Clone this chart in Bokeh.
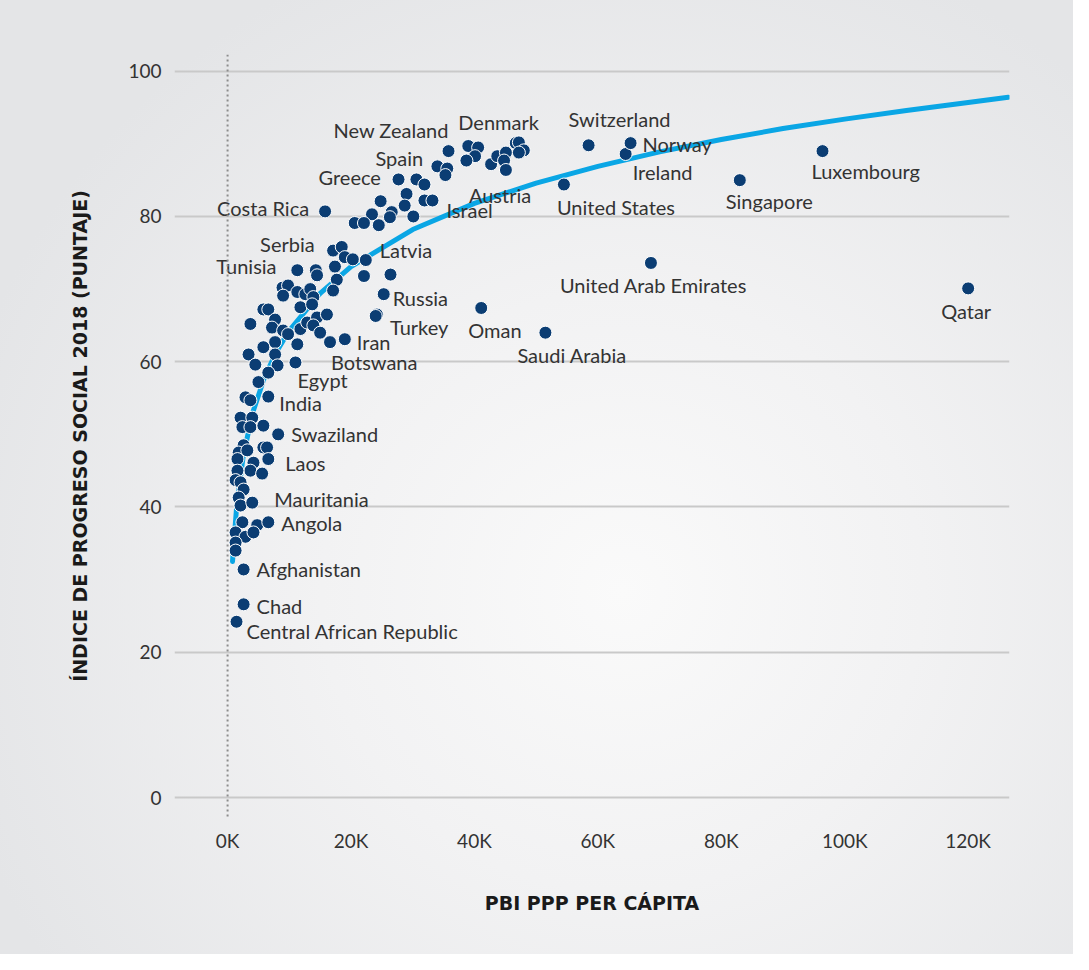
from bokeh.plotting import figure
from bokeh.models import ColumnDataSource, FixedTicker, Span
from bokeh.core.properties import value
from bokeh.embed import file_html
from bokeh.resources import INLINE

# ---- data (GDP PPP per capita in thousands, Social Progress Index 2018) ----
gdp = [35.8, 39.0, 40.6, 40.1, 38.7, 34.0, 35.6, 35.3, 42.7, 43.7, 45.1, 44.8, 45.1,
       46.7, 47.2, 48.0, 47.2, 27.7, 30.6, 31.9, 29.0, 28.7, 31.9, 33.2, 30.1, 26.6,
       15.8, 24.8, 23.4, 26.3, 20.6, 22.1, 24.5, 17.1, 18.5, 19.0, 20.3, 22.4, 17.4,
       11.3, 14.3, 14.5, 17.7, 22.1, 26.4,
       8.9, 9.8, 9.0, 11.3, 12.6, 13.4, 13.9, 17.1, 5.8, 6.6, 11.8, 13.7,
       3.7, 7.7, 7.2, 9.0, 9.8, 11.8, 12.9, 14.5, 16.1, 13.9, 15.0, 16.6, 19.0,
       11.3, 7.7, 5.8, 3.4, 7.7, 4.5, 8.1, 11.0, 6.6, 5.0, 2.9, 3.7, 6.6,
       25.3, 24.2, 24.0, 41.1, 51.5, 68.6, 120.0, 96.4, 83.0, 54.5, 64.5, 65.3, 58.5,
       2.1, 4.0, 2.4, 3.7, 5.8, 8.2, 2.6, 1.8, 3.2, 5.8, 6.4, 1.6, 4.2, 6.6,
       3.7, 5.6, 1.6, 1.3, 2.1, 2.6, 1.8, 2.1, 4.0, 2.4, 4.8, 6.6,
       1.3, 2.9, 4.2, 1.3, 1.3, 2.6, 2.6, 1.45]
spi = [89.0, 89.7, 89.5, 88.3, 87.7, 86.9, 86.6, 85.7, 87.2, 88.3, 88.8, 87.7, 86.4,
       90.1, 90.2, 89.1, 88.8, 85.1, 85.1, 84.4, 83.1, 81.5, 82.2, 82.2, 80.0, 80.6,
       80.7, 82.1, 80.3, 79.9, 79.1, 79.1, 78.8, 75.3, 75.8, 74.4, 74.1, 74.0, 73.1,
       72.6, 72.6, 71.9, 71.3, 71.8, 72.0,
       70.2, 70.5, 69.1, 69.6, 69.3, 70.0, 68.9, 69.8, 67.2, 67.2, 67.5, 67.9,
       65.2, 65.8, 64.7, 64.3, 63.8, 64.5, 65.4, 66.1, 66.5, 65.0, 64.0, 62.7, 63.1,
       62.4, 62.7, 62.0, 61.0, 61.0, 59.6, 59.5, 59.9, 58.5, 57.2, 55.1, 54.7, 55.2,
       69.3, 66.5, 66.3, 67.4, 64.0, 73.6, 70.1, 89.0, 85.0, 84.4, 88.6, 90.1, 89.8,
       52.3, 52.3, 51.0, 51.0, 51.2, 50.0, 48.5, 47.5, 47.8, 48.2, 48.2, 46.6, 46.1, 46.6,
       45.0, 44.6, 45.0, 43.7, 43.4, 42.4, 41.3, 40.2, 40.6, 37.9, 37.5, 37.9,
       36.5, 35.9, 36.5, 35.1, 34.0, 31.4, 26.6, 24.2]

# labelled countries: name, index of its point, label offset (px)
label_names = ["New Zealand", "Denmark", "Spain", "Greece", "Costa Rica", "Austria", "Israel",
               "Switzerland", "Norway", "Ireland", "United States", "Singapore", "Luxembourg",
               "United Arab Emirates", "Qatar", "Saudi Arabia", "Oman", "Turkey", "Russia",
               "Iran", "Botswana", "Egypt", "India", "Swaziland", "Laos", "Mauritania",
               "Angola", "Afghanistan", "Chad", "Central African Republic", "Latvia",
               "Serbia", "Tunisia"]
label_idx = [0, 1, 5, 17, 26, 12, 23, 95, 94, 93, 92, 91, 90, 88, 89, 87, 86, 84, 83,
             69, 68, 77, 82, 101, 109, 118, 121, 127, 128, 129, 37, 33, 39]
label_dx = [-115, -10, -62, -80, -108, -37, 14, -20, 12, 7, -7, -14, -11, -91, -27, -28,
            -13, 13, 9, 12, 1, 2, 11, 13, 17, 22, 13, 13, 13, 10, 14, -73, -81]
label_dy = [-21, -24, -8, -2, -3, 25, 10, -26, 1, 18, 22, 21, 20, 22, 23, 22, 22, 12, 4,
            3, 20, 18, 6, 0, 4, -4, 1, 0, 2, 9, -10, -7, -4]

# logarithmic trend line
trend_x = [0.8, 1.5, 2.5, 4, 6, 8, 10, 15, 20, 30, 40, 50, 60, 70, 80, 90, 100, 110, 120, 126.5]
trend_y = [32.5, 40.4, 46.8, 52.8, 57.9, 61.5, 64.3, 69.4, 73.1, 78.2, 81.8, 84.6, 86.9,
           88.9, 90.6, 92.1, 93.4, 94.6, 95.7, 96.4]

x_ticks = [0, 20, 40, 60, 80, 100, 120]
x_tick_labels = ["0K", "20K", "40K", "60K", "80K", "100K", "120K"]
y_ticks = [0, 20, 40, 60, 80, 100]

FONT = "Lato"
TITLE_FONT = "DejaVu Sans"
BG = "#eeeff0"

p = figure(width=1073, height=954, output_backend="svg", toolbar_location=None,
           x_range=(-8.6, 126.7), y_range=(-2.75, 102.3),
           min_border_left=174, min_border_right=64, min_border_top=54, min_border_bottom=137)
# soft radial grey background like the reference
p.styles = {"background": "radial-gradient(circle at 58% 62%, #fafafa 0%, #f2f2f3 35%, #e4e5e7 80%)"}
p.background_fill_alpha = 0
p.border_fill_alpha = 0
p.outline_line_color = None

p.xgrid.grid_line_color = None
p.ygrid.grid_line_color = "#c9c9c9"
p.ygrid.grid_line_width = 2
p.ygrid.ticker = FixedTicker(ticks=y_ticks)

p.xaxis.ticker = FixedTicker(ticks=x_ticks)
p.xaxis.major_label_overrides = {t: l for t, l in zip(x_ticks, x_tick_labels)}
p.yaxis.ticker = FixedTicker(ticks=y_ticks)
for ax in (p.xaxis, p.yaxis):
    ax.axis_line_color = None
    ax.major_tick_line_color = None
    ax.minor_tick_line_color = None
    ax.major_label_text_font = FONT
    ax.major_label_text_font_size = "19px"
    ax.major_label_text_color = "#333333"
    ax.axis_label_text_font = TITLE_FONT
    ax.axis_label_text_font_style = "bold"
    ax.axis_label_text_font_size = "19px"
    ax.axis_label_text_color = "#1a1a1a"
p.xaxis.major_label_standoff = 5
p.yaxis.major_label_standoff = 7
p.xaxis.axis_label = "PBI PPP PER CÁPITA"
p.yaxis.axis_label = "ÍNDICE DE PROGRESO SOCIAL 2018 (PUNTAJE)"
p.xaxis.axis_label_standoff = 37
p.yaxis.axis_label_standoff = 34

p.add_layout(Span(location=0, dimension="height", line_color="#8c8c8c",
                  line_width=2, line_dash="2 3"))

p.line(trend_x, trend_y, line_color="#0aa6e5", line_width=5, line_cap="round")

src = ColumnDataSource(dict(x=gdp, y=spi))
p.scatter("x", "y", source=src, size=13, fill_color="#0b3d73", line_color="white", line_width=1)

lsrc = ColumnDataSource(dict(
    x=[gdp[i] for i in label_idx], y=[spi[i] for i in label_idx],
    name=label_names, dx=label_dx, dy=label_dy))
p.text("x", "y", text="name", source=lsrc, x_offset="dx", y_offset="dy",
       text_font=value(FONT), text_font_size="20px", text_color="#333333",
       text_align="left", text_baseline="middle")

open("out.html", "w").write(file_html(p, INLINE))
